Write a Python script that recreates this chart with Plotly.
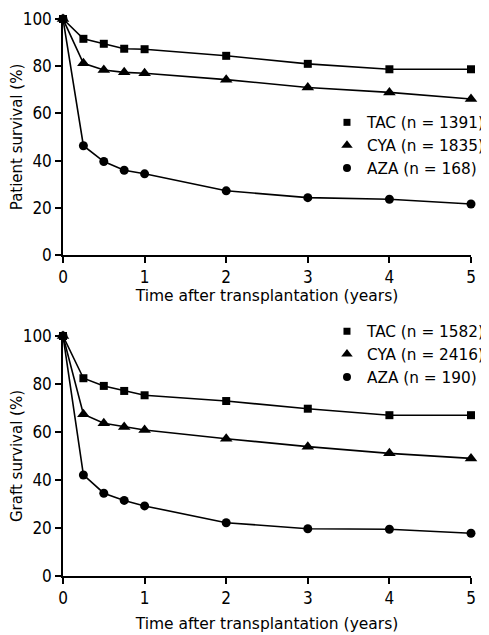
import plotly.graph_objects as go

years = [0, 0.25, 0.5, 0.75, 1, 2, 3, 4, 5]

patient_tac = [100, 91.6, 89.5, 87.4, 87.2, 84.4, 81.0, 78.7, 78.7]
patient_cya = [100, 81.2, 78.4, 77.4, 77.0, 74.3, 71.0, 68.9, 66.1]
patient_aza = [100, 46.3, 39.6, 35.9, 34.4, 27.2, 24.3, 23.6, 21.6]

graft_tac = [100, 82.4, 79.2, 77.1, 75.3, 72.9, 69.7, 67.0, 67.0]
graft_cya = [100, 67.4, 63.6, 62.1, 60.8, 57.2, 53.9, 51.1, 49.0]
graft_aza = [100, 42.1, 34.5, 31.5, 29.2, 22.2, 19.7, 19.5, 17.8]

patient_labels = ["TAC (n = 1391)", "CYA (n = 1835)", "AZA (n = 168)"]
graft_labels = ["TAC (n = 1582)", "CYA (n = 2416)", "AZA (n = 190)"]

x_ticks = [0, 1, 2, 3, 4, 5]
y_ticks = [0, 20, 40, 60, 80, 100]

FONT = "DejaVu Sans, Liberation Sans, Arial, sans-serif"
TICKFONT = "Liberation Sans Narrow, Arial Narrow, DejaVu Sans Condensed, sans-serif"
symbols = ["square", "triangle-up", "circle"]
msizes = [8, 11, 9]

fig = go.Figure()

panels = [
    ([patient_tac, patient_cya, patient_aza], patient_labels, "x", "y", "legend"),
    ([graft_tac, graft_cya, graft_aza], graft_labels, "x2", "y2", "legend2"),
]

for series, labels, xa, ya, leg in panels:
    for vals, lab, sym, ms in zip(series, labels, symbols, msizes):
        fig.add_trace(go.Scatter(
            x=years, y=vals, mode="lines+markers", xaxis=xa, yaxis=ya,
            line=dict(color="black", width=1.6),
            marker=dict(symbol=sym, size=ms, color="black"),
            showlegend=False, cliponaxis=False,
        ))
    for lab, sym, ms in zip(labels, symbols, msizes):
        fig.add_trace(go.Scatter(
            x=[None], y=[None], mode="markers", xaxis=xa, yaxis=ya,
            marker=dict(symbol=sym, size=ms - 1, color="black"),
            name=lab, legend=leg, showlegend=True,
        ))

axis_common = dict(
    showgrid=False, zeroline=False, showline=True, linecolor="black",
    linewidth=1.5, ticks="outside", ticklen=6, tickwidth=1.5, automargin=False,
    ticklabeloverflow="allow",
    tickcolor="black", tickfont=dict(size=17, color="black", family=TICKFONT),
)

legend_common = dict(
    xanchor="left", yanchor="top",
    font=dict(size=15.3, family=FONT, color="black"),
    bgcolor="rgba(0,0,0,0)", itemwidth=30, tracegroupgap=0,
)

fig.update_layout(
    width=481, height=627,
    margin=dict(l=55, r=18, t=11, b=59, autoexpand=False),
    paper_bgcolor="white", plot_bgcolor="white",
    font=dict(family=FONT, color="black", size=16),
    xaxis=dict(domain=[0, 1], range=[0, 5], tickvals=x_ticks, anchor="y",
               title=dict(text="Time after transplantation (years)",
                          font=dict(size=15.5, family=FONT), standoff=0),
               **axis_common),
    yaxis=dict(domain=[0.5763, 1], range=[0, 100], tickvals=y_ticks, anchor="x",
               title=dict(text="Patient survival (%)",
                          font=dict(size=15, family=FONT), standoff=4),
               **axis_common),
    xaxis2=dict(domain=[0, 1], range=[0, 5], tickvals=x_ticks, anchor="y2",
                title=dict(text="Time after transplantation (years)",
                           font=dict(size=15.5, family=FONT), standoff=11),
                **axis_common),
    yaxis2=dict(domain=[0, 0.4309], range=[0, 100], tickvals=y_ticks, anchor="x2",
                title=dict(text="Graft survival (%)",
                           font=dict(size=15, family=FONT), standoff=4),
                **axis_common),
    legend=dict(x=0.647, y=0.844, **legend_common),
    legend2=dict(x=0.647, y=0.469, **legend_common),
)

fig.write_html("out.html")
